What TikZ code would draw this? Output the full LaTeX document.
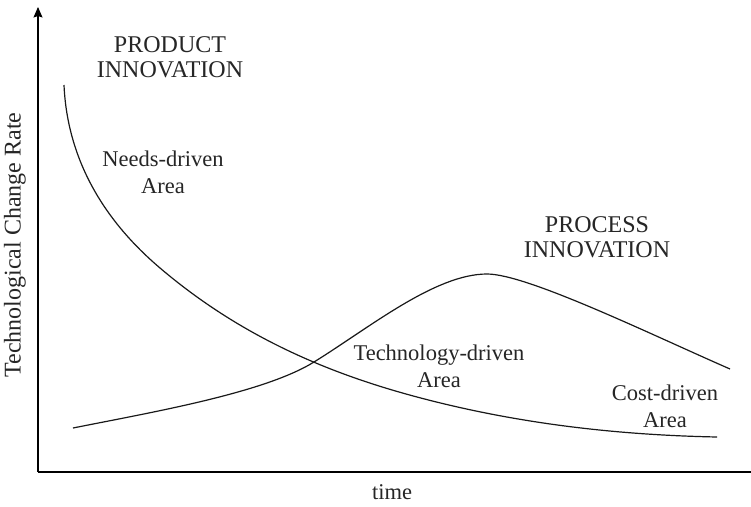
\documentclass[tikz,border=0pt]{standalone}
\usepackage{fontspec}
\setmainfont{Liberation Serif}
\usetikzlibrary{arrows.meta}
\tikzset{
  axisline/.style={line width=1.1pt, draw=black, -{Stealth[length=10.5pt,width=9pt,inset=1.5pt]}},
  curveline/.style={line width=1.2pt, draw=black!90},
  lbl/.style={align=center, inner sep=0pt, text=black!85, font=\fontsize{22.5}{27}\selectfont},
  ttl/.style={lbl, font=\fontsize{24}{25}\selectfont}
}
\begin{document}
\begin{tikzpicture}[x=1pt,y=-1pt]
\clip (0,0) rectangle (751,506);
\fill[white] (0,0) rectangle (751,506);
% axes
\coordinate (origin) at (38,472);
\coordinate (ytip) at (38,7);
\coordinate (xtip) at (762,472);
\draw[axisline] (origin) -- (ytip);
\draw[axisline] (origin) -- (xtip);
% product innovation curve
\coordinate (pa) at (64,85);
\coordinate (pb) at (160,268);
\coordinate (pc) at (417,397);
\coordinate (pd) at (717,437);
\draw[curveline] (pa) .. controls (68,175) and (120,234) .. (pb)
  .. controls (240,336) and (327,373) .. (pc)
  .. controls (517,423.7) and (617,435) .. (pd);
% process innovation curve
\coordinate (qa) at (73,428);
\coordinate (qb) at (314,362);
\coordinate (qc) at (487,274);
\coordinate (qd) at (730,369);
\draw[curveline] (qa) .. controls (153,412) and (264,393) .. (qb)
  .. controls (369,328) and (435,274) .. (qc)
  .. controls (527,274) and (650,334) .. (qd);
% labels
\node[ttl] (prod) at (170,57) {PRODUCT\\INNOVATION};
\node[lbl] (needs) at (163,172) {Needs-driven\\Area};
\node[ttl] (proc) at (597,237) {PROCESS\\INNOVATION};
\node[lbl] (tech) at (439,366) {Technology-driven\\Area};
\node[lbl] (cost) at (665,406) {Cost-driven\\Area};
\node[lbl] (time) at (392,492) {time};
\node[lbl, font=\fontsize{24}{27}\selectfont, rotate=90] (ylab) at (15,245) {Technological Change Rate};
\end{tikzpicture}
\end{document}
